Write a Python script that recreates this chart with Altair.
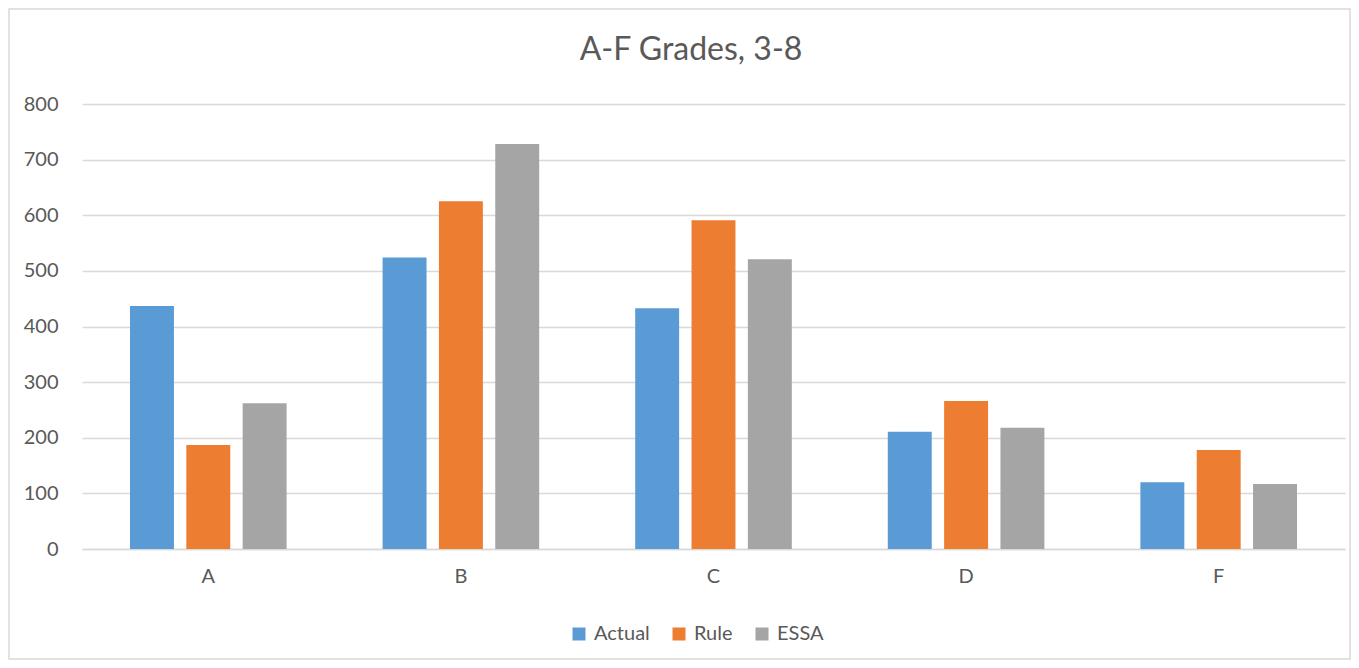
import altair as alt
import pandas as pd

grades = ["A", "B", "C", "D", "F"]
series = ["Actual", "Rule", "ESSA"]
actual = [437, 524, 433, 211, 120]
rule = [187, 625, 591, 266, 178]
essa = [262, 728, 521, 218, 117]
colors = ["#5B9BD5", "#ED7D31", "#A5A5A5"]
y_ticks = [0, 100, 200, 300, 400, 500, 600, 700, 800]
title_text = ["A-F Grades, 3-8"]

rows = []
for name, vals in zip(series, [actual, rule, essa]):
    for g, v in zip(grades, vals):
        rows.append({"grade": g, "series": name, "value": v})
df = pd.DataFrame(rows)

FONT = "Lato"
TXT = "#595959"
GRID = "#D9D9D9"
W, H = 1263, 445

bars = alt.Chart(df).mark_bar().encode(
    x=alt.X("grade:N", sort=grades, title=None,
            scale=alt.Scale(paddingInner=0.38, paddingOuter=0.19),
            axis=alt.Axis(labelAngle=0, ticks=False, domainColor=GRID, domainWidth=1.3,
                          labelFontSize=20, labelColor=TXT, labelFont=FONT, labelPadding=17,
                          grid=False)),
    xOffset=alt.XOffset("series:N", sort=series,
                        scale=alt.Scale(paddingInner=0.22, paddingOuter=0)),
    y=alt.Y("value:Q", title=None,
            scale=alt.Scale(domain=[0, 800], nice=False),
            axis=alt.Axis(values=y_ticks, ticks=False, domain=False, gridColor=GRID,
                          gridWidth=1.3, labelFontSize=20, labelColor=TXT, labelFont=FONT,
                          labelPadding=24)),
    color=alt.Color("series:N", sort=series, title=None,
                    scale=alt.Scale(domain=series, range=colors),
                    legend=alt.Legend(orient="none", direction="horizontal", legendX=487,
                                      legendY=520, symbolType="square", symbolSize=169,
                                      symbolStrokeWidth=0, labelFontSize=20, labelColor=TXT,
                                      labelFont=FONT, columnPadding=19, labelOffset=5,
                                      padding=0)),
)

border = alt.Chart(pd.DataFrame({"a": [0]})).mark_rect(
    fillOpacity=0, stroke=GRID, strokeWidth=1.5
).encode(
    x=alt.value(-73), x2=alt.value(1268), y=alt.value(-95), y2=alt.value(555)
)

title = alt.Chart(pd.DataFrame({"t": title_text})).mark_text(
    font=FONT, fontSize=32, color=TXT, align="center", baseline="alphabetic"
).encode(text="t:N", x=alt.value(609), y=alt.value(-44))

chart = alt.layer(bars, border, title).properties(
    width=W, height=H,
    autosize=alt.AutoSizeParams(type="none"),
    padding={"left": 74, "top": 96, "right": 6, "bottom": 111},
).configure_view(stroke=None)

chart.save("out.html", embed_options={"renderer": "svg", "actions": False})
